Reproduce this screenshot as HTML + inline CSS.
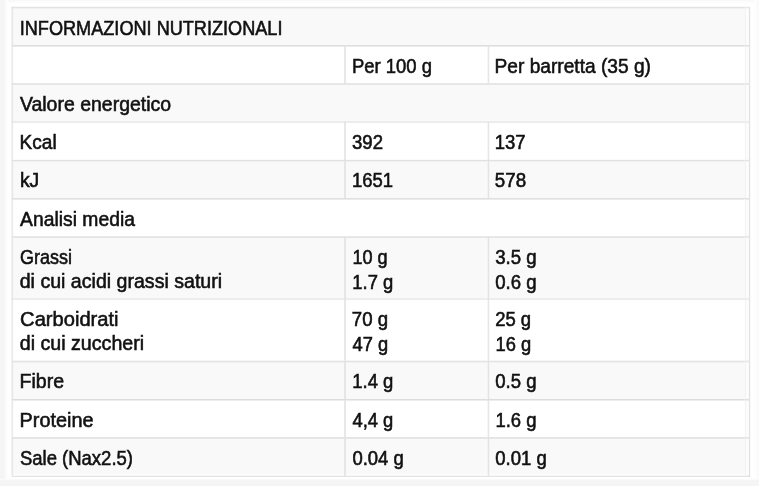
<!DOCTYPE html>
<html lang="it">
<head>
<meta charset="utf-8">
<title>Informazioni nutrizionali</title>
<style>
html,body{margin:0;padding:0;}
body{width:759px;height:486px;overflow:hidden;background:#fff;position:relative;
  font-family:"Liberation Sans",sans-serif;color:#111;-webkit-text-stroke:0.6px #111;}
.bgl,.bgb,.bgr,.bgt,.bgt2{position:absolute;}
.bgl{left:0;top:0;width:8px;height:486px;background:linear-gradient(90deg,#f5f5f5 0,#f5f5f5 4px,#fbfbfb 6px,#fff 8px);}
.bgb{left:0;top:479px;width:759px;height:7px;background:linear-gradient(180deg,#fff 0,#f5f5f5 1px,#f5f5f5 100%);}
.bgr{left:754px;top:0;width:5px;height:486px;background:linear-gradient(90deg,#fff 0,#fbfbfb 3px,#fafafa 5px);}
.bgt{left:0;top:0;width:759px;height:1px;background:#f8f8f8;}
.bgt2{left:0;top:1px;width:759px;height:2px;background:#fcfcfc;}
#wrap{position:absolute;left:0;top:0;width:794px;height:508px;transform-origin:0 0;transform:scale(0.956,0.9566);
  font-size:21.1px;line-height:25px;}
.frame{position:absolute;left:0;top:0;transform:translate(12.2px,7.12px);box-shadow:0.5px 0.5px 0 0 #dadada;padding:0;background:#fff;
  border-right:1px solid #dadada;border-bottom:1px solid #dadada;}
table{border-collapse:separate;border-spacing:0;table-layout:fixed;width:771px;}
td{box-sizing:border-box;height:40px;padding:7.5px 0 0 7px;border-top:1px solid #dcdcdc;border-left:1px solid #dcdcdc;
  vertical-align:top;white-space:nowrap;overflow:hidden;box-shadow:inset 0.5px 0.5px 0 0 #dcdcdc;}
tr.g td{background:#f9f9f9;}
tr.d td{height:65px;}
tr.last td{height:40px;box-shadow:inset 0.5px 0.5px 0 0 #dcdcdc,inset 0 -2.2px 0 0 rgba(255,255,255,.55);}
tr td.e{background:#fcfcfc;border-left:1px solid #f2f2f2;padding:0;box-shadow:inset 0 0.5px 0 0 #dcdcdc;}
span.t{display:inline-block;transform-origin:0 50%;}
span.n{font-size:.955em;}

</style>
</head>
<body>
<div class="bgt2"></div>
<div class="bgt"></div>
<div class="bgr"></div>
<div class="bgl"></div>
<div class="bgb"></div>
<div id="wrap">
<div class="frame">
<table>
<colgroup><col style="width:348px"><col style="width:150px"><col style="width:269px"><col style="width:4px"></colgroup>
<tr class="g"><td colspan="3"><span class="t" style="transform:translateX(0.45px) scaleX(0.8985)">INFORMAZIONI NUTRIZIONALI</span></td><td class="e"></td></tr>
<tr><td></td><td><span class="t" style="transform:translateX(-0.11px) scaleX(0.9151)">Per 100 g</span></td><td><span class="t" style="transform:translateX(-0.87px) scaleX(0.9492)">Per barretta (35 g)</span></td><td class="e"></td></tr>
<tr class="g"><td colspan="3"><span class="t" style="transform:translateX(0.60px) scaleX(0.9658)">Valore energetico</span></td><td class="e"></td></tr>
<tr><td><span class="t" style="transform:translateX(0.28px) scaleX(0.9445)">Kcal</span></td><td><span class="t n" style="transform:translateX(0.02px) scaleX(0.9632)">392</span></td><td><span class="t n" style="transform:translateX(-0.77px) scaleX(0.9615)">137</span></td><td class="e"></td></tr>
<tr class="g"><td><span class="t" style="transform:translate(0.63px,-0.6px) scaleX(0.9606)">kJ</span></td><td><span class="t n" style="transform:translate(-0.07px,-0.6px) scaleX(0.9589)">1651</span></td><td><span class="t n" style="transform:translate(-0.65px,-0.6px) scaleX(0.9737)">578</span></td><td class="e"></td></tr>
<tr><td colspan="3"><span class="t" style="transform:translateX(0.79px) scaleX(0.9576)">Analisi media</span></td><td class="e"></td></tr>
<tr class="g d"><td><span class="t" style="transform:translateX(0.73px) scaleX(0.8941)">Grassi</span><br><span class="t" style="transform:translateX(0.42px) scaleX(0.9708)">di cui acidi grassi saturi</span></td><td><span class="t n" style="transform:translateX(0.46px) scaleX(0.9383)">10 g</span><br><span class="t n" style="transform:translateX(0.37px) scaleX(0.9552)">1.7 g</span></td><td><span class="t n" style="transform:translateX(-0.23px) scaleX(0.9689)">3.5 g</span><br><span class="t n" style="transform:translateX(-0.15px) scaleX(0.9655)">0.6 g</span></td><td class="e"></td></tr>
<tr class="d"><td><span class="t" style="transform:translateX(0.82px) scaleX(0.9983)">Carboidrati</span><br><span class="t" style="transform:translateX(0.44px) scaleX(0.9739)">di cui zuccheri</span></td><td><span class="t n" style="transform:translateX(-0.24px) scaleX(0.9673)">70 g</span><br><span class="t n" style="transform:translateX(0.56px) scaleX(0.9485)">47 g</span></td><td><span class="t n" style="transform:translateX(-0.26px) scaleX(0.9597)">25 g</span><br><span class="t n" style="transform:translateX(0.11px) scaleX(0.9510)">16 g</span></td><td class="e"></td></tr>
<tr class="g"><td><span class="t" style="transform:translateX(0.25px) scaleX(0.9691)">Fibre</span></td><td><span class="t n" style="transform:translateX(0.37px) scaleX(0.9578)">1.4 g</span></td><td><span class="t n" style="transform:translateX(-0.21px) scaleX(0.9643)">0.5 g</span></td><td class="e"></td></tr>
<tr><td><span class="t" style="transform:translateX(0.30px) scaleX(0.9850)">Proteine</span></td><td><span class="t n" style="transform:translateX(0.53px) scaleX(0.9532)">4,4 g</span></td><td><span class="t n" style="transform:translateX(-0.01px) scaleX(0.9594)">1.6 g</span></td><td class="e"></td></tr>
<tr class="g last"><td><span class="t" style="transform:translateX(0.60px) scaleX(0.9175)">Sale (Nax2.5)</span></td><td><span class="t n" style="transform:translateX(0.48px) scaleX(0.9589)">0.04 g</span></td><td><span class="t n" style="transform:translateX(-0.19px) scaleX(0.9617)">0.01 g</span></td><td class="e"></td></tr>
</table>
</div>
</div>
</body>
</html>
